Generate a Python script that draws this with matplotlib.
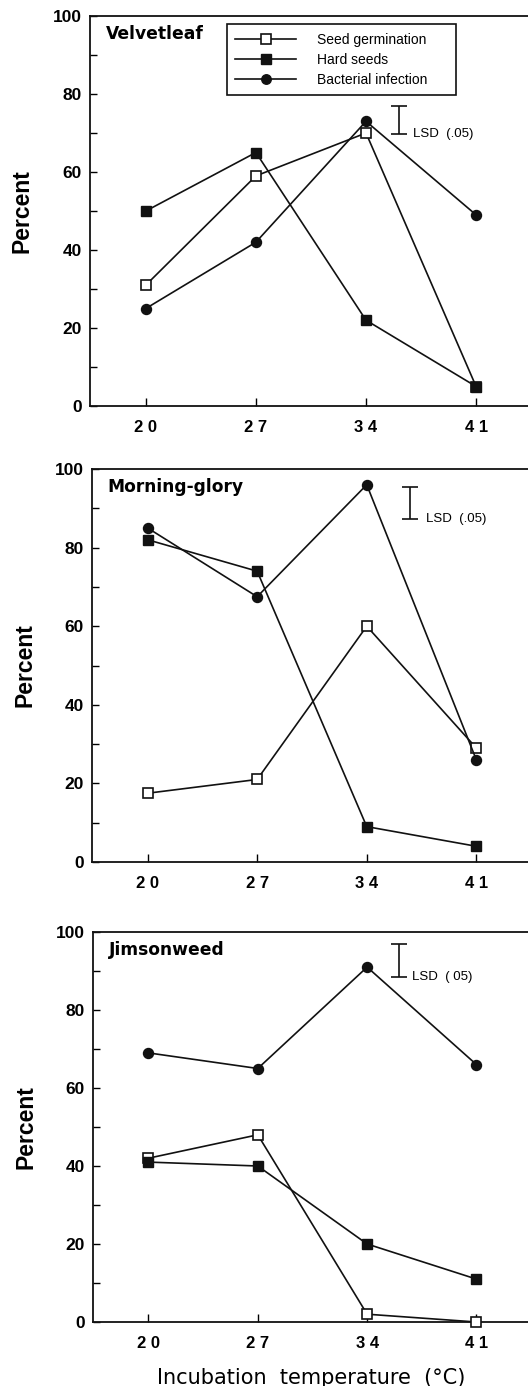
import matplotlib
matplotlib.use('Agg')
import matplotlib.pyplot as plt

plt.rcParams['font.family'] = ['Liberation Sans', 'DejaVu Sans']

# incubation temperatures (x axis)
temps = [20, 27, 34, 41]
temp_labels = ['2 0', '2 7', '3 4', '4 1']

# Velvetleaf
velvet_germ = [31, 59, 70, 5]
velvet_hard = [50, 65, 22, 5]
velvet_bact = [25, 42, 73, 49]

# Morning-glory
morning_germ = [17.5, 21, 60, 29]
morning_hard = [82, 74, 9, 4]
morning_bact = [85, 67.5, 96, 26]

# Jimsonweed
jimson_germ = [42, 48, 2, 0]
jimson_hard = [41, 40, 20, 11]
jimson_bact = [69, 65, 91, 66]

species = ['Velvetleaf', 'Morning-glory', 'Jimsonweed']
series_names = ['Seed germination', 'Hard seeds', 'Bacterial infection']

# LSD (.05) bars: x position, low, high
lsd_x = [36.1, 36.75, 36.05]
lsd_lo = [69.7, 87.3, 88.5]
lsd_hi = [76.9, 95.5, 97.0]
lsd_text_x = [37.0, 37.8, 36.85]
lsd_text = ['LSD  (.05)', 'LSD  (.05)', 'LSD  ( 05)']

data = [
    (velvet_germ, velvet_hard, velvet_bact),
    (morning_germ, morning_hard, morning_bact),
    (jimson_germ, jimson_hard, jimson_bact),
]

W, H = 528, 1386
fig = plt.figure(figsize=(W / 100, H / 100), dpi=100)

# axes boxes in pixels: left, top, bottom
boxes = [(90, 16, 406), (92, 469, 862), (93, 932, 1322)]

for i in range(3):
    left, top, bottom = boxes[i]
    ax = fig.add_axes([left / W, 1 - bottom / H, 1 - left / W, (bottom - top) / H])
    germ, hard, bact = data[i]

    lw = 1.2
    ax.plot(temps, germ, '-s', color='#111111', lw=lw, ms=7, mfc='white', mec='#111111',
            mew=1.2, clip_on=False, zorder=3, label=series_names[0])
    ax.plot(temps, hard, '-s', color='#111111', lw=lw, ms=7, mfc='#111111', mec='#111111',
            clip_on=False, zorder=4, label=series_names[1])
    ax.plot(temps, bact, '-o', color='#111111', lw=lw, ms=7.2, mfc='#111111', mec='#111111',
            clip_on=False, zorder=5, label=series_names[2])

    # LSD bar
    ax.errorbar([lsd_x[i]], [(lsd_lo[i] + lsd_hi[i]) / 2], yerr=[(lsd_hi[i] - lsd_lo[i]) / 2],
                fmt='none', ecolor='#111111', elinewidth=1.2, capsize=6, capthick=1.2)
    ax.text(lsd_text_x[i], lsd_lo[i], lsd_text[i], fontsize=9.5, va='center', ha='left')

    ax.set_xlim(16.45, 44.3)
    ax.set_ylim(0, 100)
    ax.set_xticks(temps)
    ax.set_xticklabels(temp_labels, fontsize=12, fontweight='bold')
    ax.set_yticks([0, 20, 40, 60, 80, 100])
    ax.set_yticks([10, 30, 50, 70, 90], minor=True)
    ax.tick_params(axis='y', labelsize=12.5, direction='in', length=5, width=1, pad=6)
    ax.tick_params(axis='y', which='minor', direction='in', length=5, width=1)
    ax.tick_params(axis='x', direction='in', length=6, width=1, pad=10)
    for lab in ax.get_yticklabels():
        lab.set_fontweight('bold')
    ax.spines['right'].set_visible(False)
    for s in ['left', 'top', 'bottom']:
        ax.spines[s].set_linewidth(1.3)
        ax.spines[s].set_color('#111111')

    ax.set_ylabel('Percent', fontsize=16.5, fontweight='bold')
    ax.yaxis.set_label_coords(-0.128, 0.5)

    ax.text(0.036, 0.955, species[i], transform=ax.transAxes, fontsize=12.3,
            fontweight='bold', family='DejaVu Sans', va='center', ha='left')

    if i == 0:
        leg = ax.legend(loc='upper left', bbox_to_anchor=(0.313, 0.79, 0.523, 0.189),
                        mode='expand', borderaxespad=0,
                        fontsize=10, fancybox=False, framealpha=1, edgecolor='#111111',
                        handlelength=4.35, handletextpad=1.5, labelspacing=0.45,
                        borderpad=0.6, markerscale=0.95)
        leg.get_frame().set_linewidth(1.2)

fig.text(311 / W, 1 - 1378 / H, 'Incubation  temperature  (°C)', fontsize=15,
         family='DejaVu Sans', ha='center', va='center')

plt.savefig('out.png', dpi=100)
